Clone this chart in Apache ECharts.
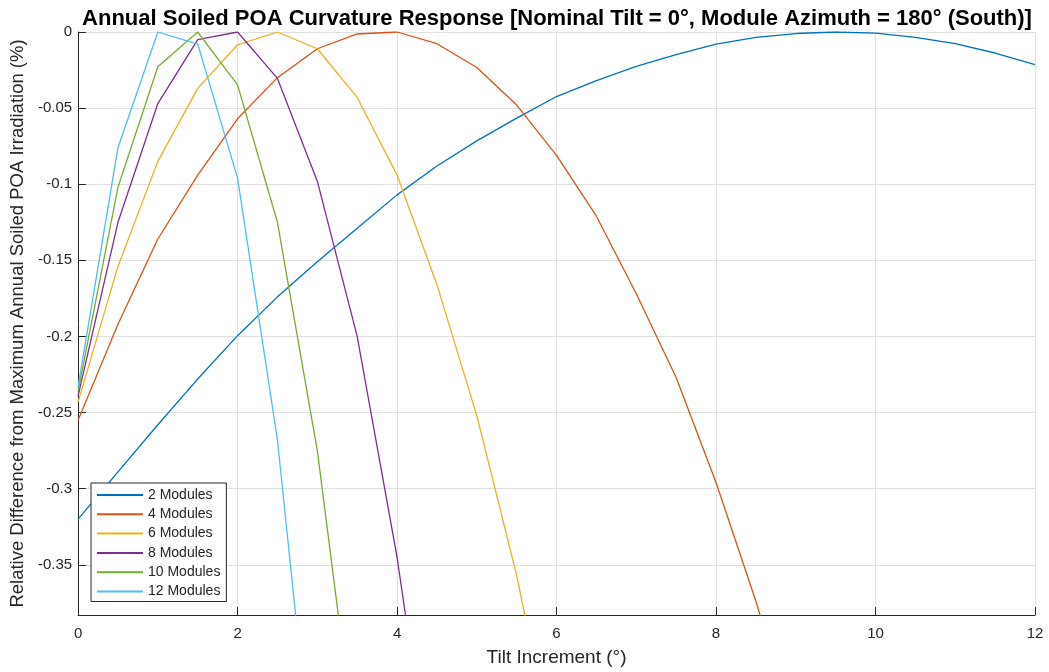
<!DOCTYPE html>
<html>
<head>
<meta charset="utf-8">
<script src="https://cdn.jsdelivr.net/npm/echarts@6/dist/echarts.min.js"></script>
<style>
  html, body { margin: 0; padding: 0; background: #fff; }
  #chart { width: 1049px; height: 672px; }
</style>
</head>
<body>
<div id="chart"></div>
<script>
// tilt increments (deg)
const tilt = [0, 0.5, 1, 1.5, 2, 2.5, 3, 3.5, 4, 4.5, 5, 5.5, 6, 6.5, 7, 7.5, 8, 8.5, 9, 9.5, 10, 10.5, 11, 11.5, 12];

// relative difference (%) per module count
const mod2 = [-0.320, -0.289, -0.258, -0.228, -0.1995, -0.174, -0.151, -0.129, -0.107, -0.088, -0.0715, -0.0566, -0.0424, -0.032, -0.0226, -0.0149, -0.0079, -0.0035, -0.001, 0, -0.0008, -0.0035, -0.0077, -0.0138, -0.0215];
const mod4 = [-0.255, -0.192, -0.136, -0.094, -0.057, -0.030, -0.011, -0.0013, 0, -0.0077, -0.0233, -0.048, -0.081, -0.121, -0.172, -0.227, -0.296, -0.374, -0.461];
const mod6 = [-0.243, -0.154, -0.085, -0.037, -0.0084, 0, -0.011, -0.043, -0.094, -0.166, -0.252, -0.357, -0.485];
const mod8 = [-0.239, -0.125, -0.047, -0.005, 0, -0.0305, -0.098, -0.200, -0.345, -0.525];
const mod10 = [-0.236, -0.102, -0.0228, 0, -0.0347, -0.125, -0.275, -0.48];
const mod12 = [-0.233, -0.076, 0, -0.0079, -0.096, -0.268, -0.52];

const seriesNames = ['2 Modules', '4 Modules', '6 Modules', '8 Modules', '10 Modules', '12 Modules'];
const seriesValues = [mod2, mod4, mod6, mod8, mod10, mod12];
const colors = ['#0072BD', '#D95319', '#EDB120', '#7E2F8E', '#77AC30', '#4DBEEE'];

const chart = echarts.init(document.getElementById('chart'));

const axisColor = '#262626';
const gridColor = '#e0e0e0';
const font = 'Liberation Sans, Arial, Helvetica, sans-serif';

const option = {
  animation: false,
  color: colors,
  title: {
    text: 'Annual Soiled POA Curvature Response [Nominal Tilt = 0°, Module Azimuth = 180° (South)]',
    left: 552,
    textAlign: 'center',
    top: 3,
    textStyle: { fontFamily: font, fontSize: 22, fontWeight: 'bold', color: '#000' }
  },
  legend: {
    orient: 'vertical',
    left: 91,
    top: 483,
    itemWidth: 46,
    itemHeight: 14,
    itemGap: 5.3,
    padding: [5, 6, 3, 5],
    borderColor: axisColor,
    borderWidth: 1,
    backgroundColor: '#fff',
    itemStyle: { opacity: 0 },
    textStyle: { fontFamily: font, fontSize: 14, color: axisColor },
    data: seriesNames
  },
  grid: {
    left: 77,
    right: 14,
    top: 32,
    bottom: 57
  },
  xAxis: {
    type: 'value',
    min: 0,
    max: 12,
    interval: 2,
    name: 'Tilt Increment (°)',
    nameLocation: 'middle',
    nameGap: 33,
    nameTextStyle: { fontFamily: font, fontSize: 19, color: axisColor },
    axisLine: { show: true, onZero: false, lineStyle: { color: axisColor, width: 1 } },
    axisTick: { show: true, inside: true, length: 8, lineStyle: { color: axisColor } },
    axisLabel: { fontFamily: font, fontSize: 15, color: axisColor, margin: 11 },
    splitLine: { show: true, lineStyle: { color: gridColor, width: 1 } }
  },
  yAxis: {
    type: 'value',
    min: -0.383,
    max: 0,
    minInterval: 0.05,
    maxInterval: 0.05,
    splitNumber: 8,
    name: 'Relative Difference from Maximum Annual Soiled POA Irradiation (%)',
    nameLocation: 'middle',
    nameGap: 48,
    nameTextStyle: { fontFamily: font, fontSize: 18.5, color: axisColor },
    axisLine: { show: true, lineStyle: { color: axisColor, width: 1 } },
    axisTick: { show: true, inside: true, length: 8, lineStyle: { color: axisColor } },
    axisLabel: { fontFamily: font, fontSize: 15, color: axisColor, margin: 6, showMinLabel: false },
    splitLine: { show: true, lineStyle: { color: gridColor, width: 1 } }
  },
  series: seriesNames.map((name, k) => ({
    name: name,
    type: 'line',
    symbol: 'none',
    clip: true,
    lineStyle: { width: 1.3, color: colors[k] },
    data: seriesValues[k].map((v, i) => [tilt[i], v])
  }))
};

chart.setOption(option);
</script>
</body>
</html>
